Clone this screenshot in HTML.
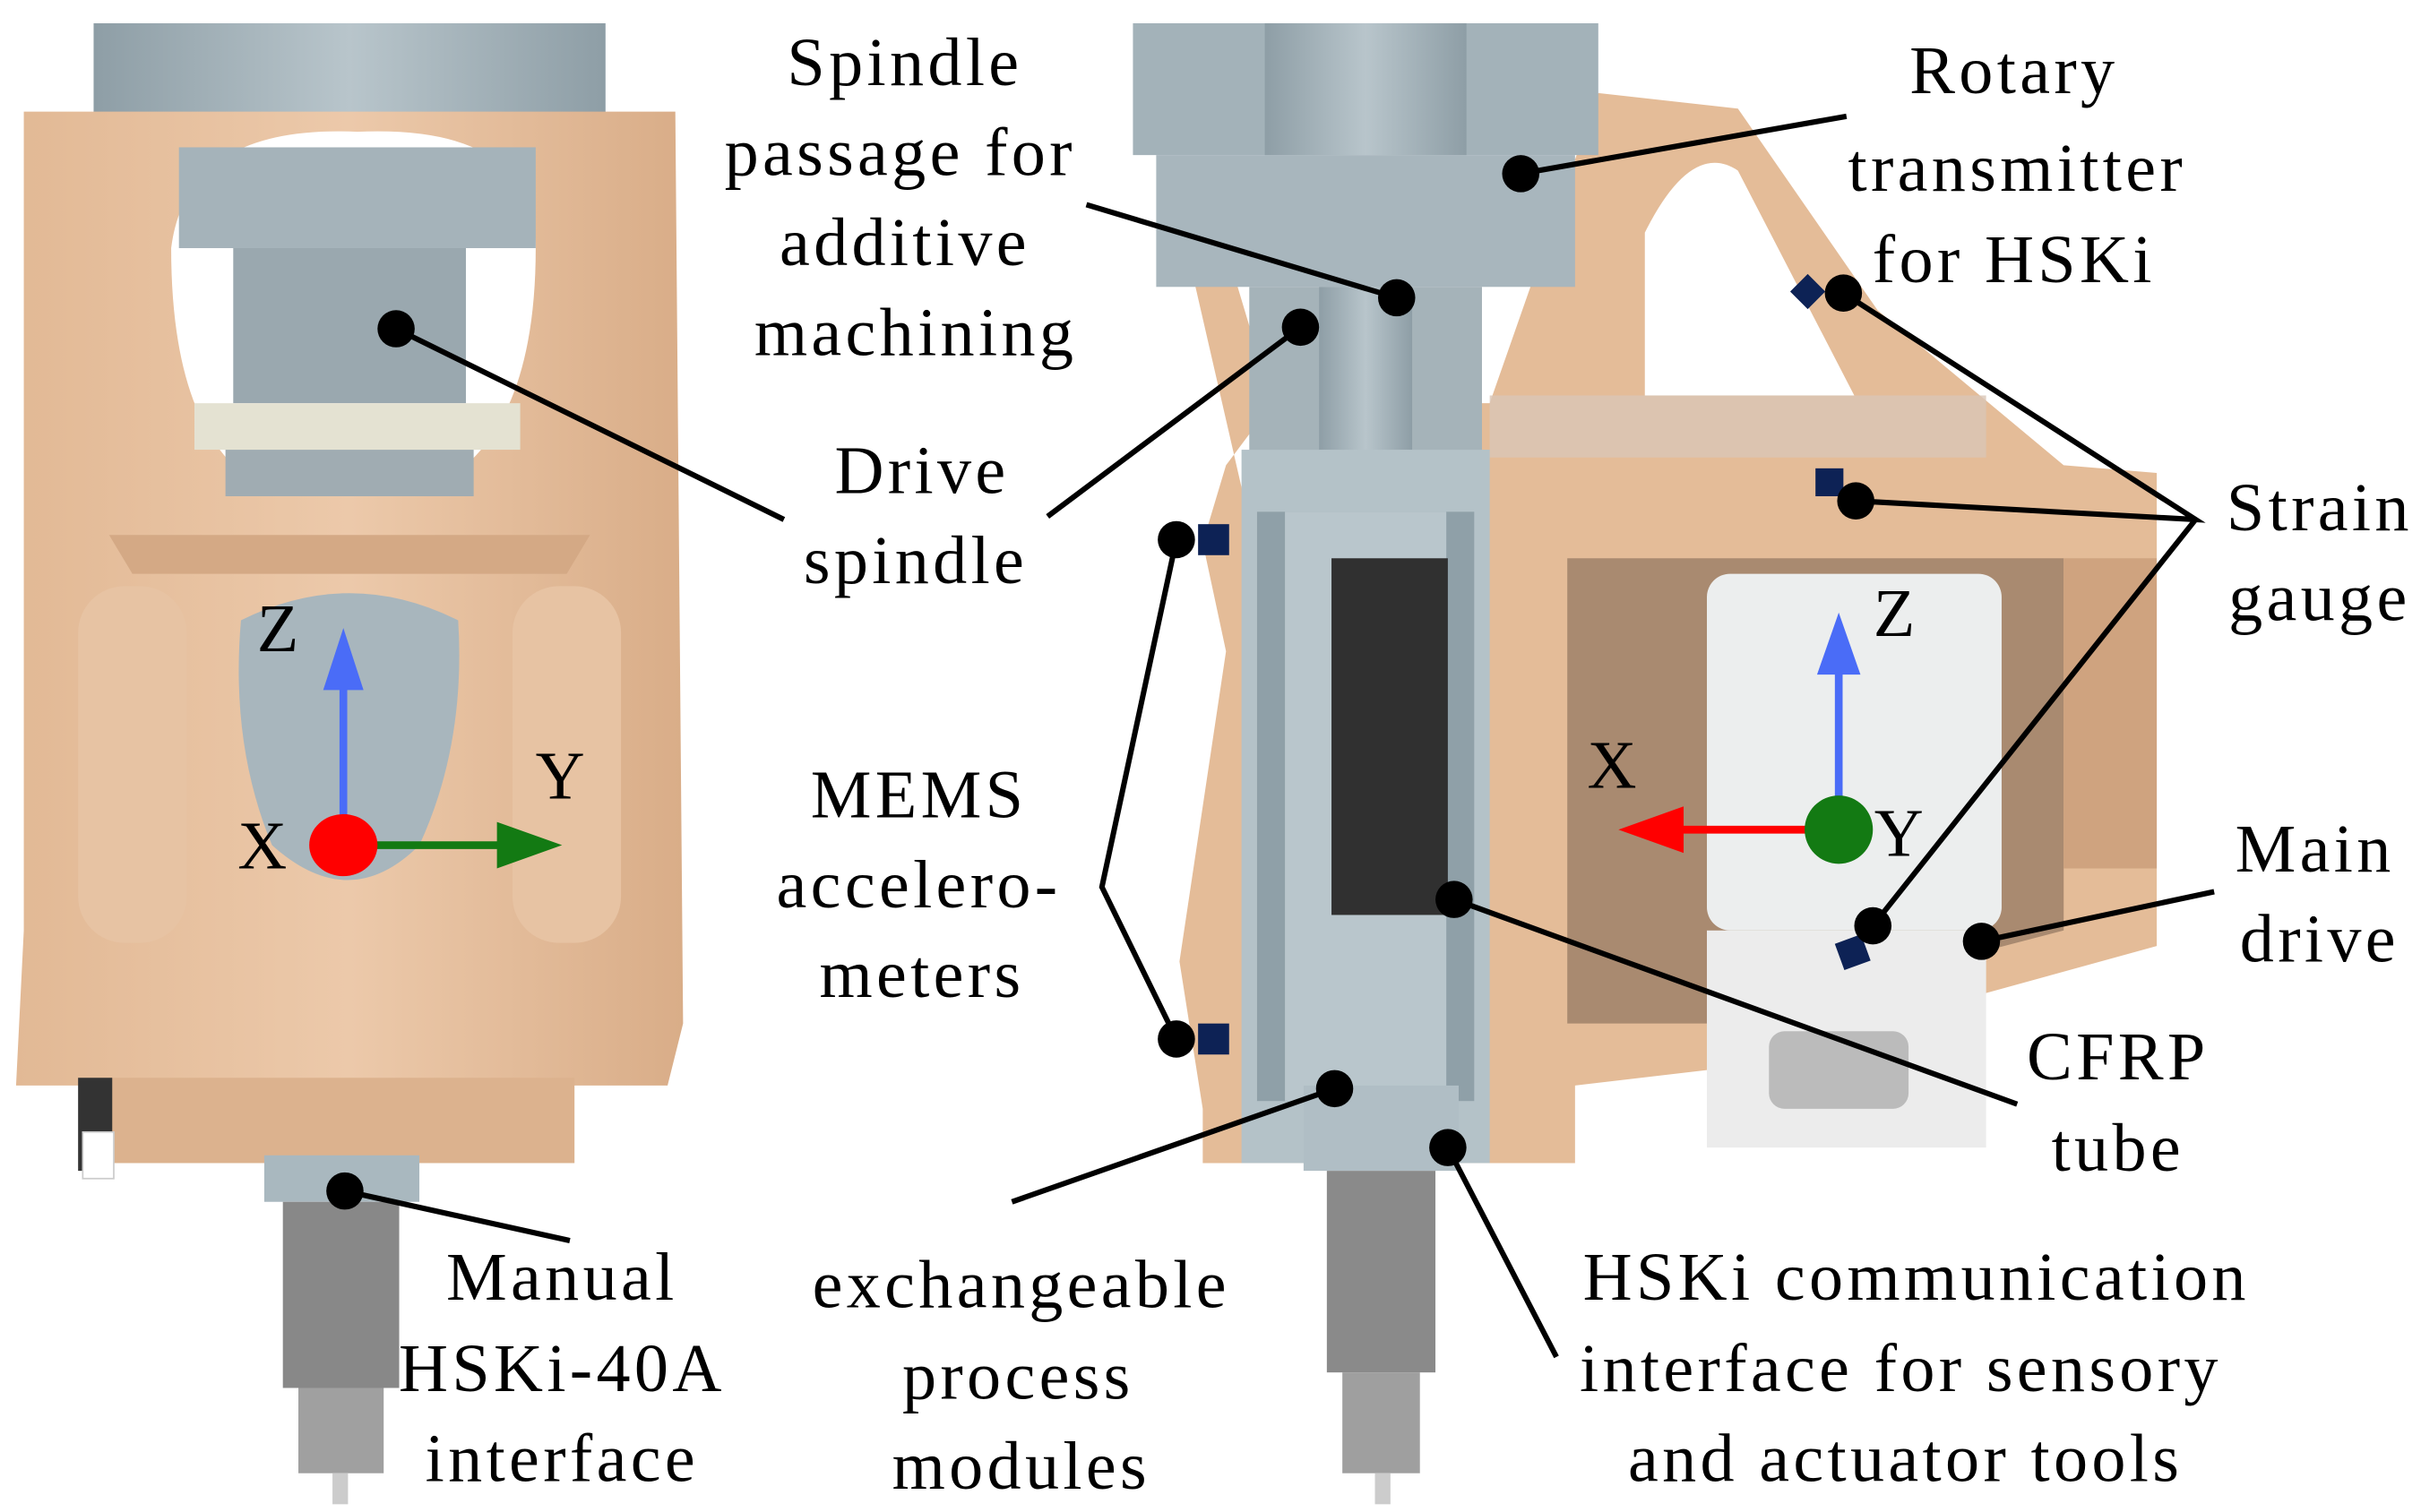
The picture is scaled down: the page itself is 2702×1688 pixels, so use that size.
<!DOCTYPE html>
<html><head><meta charset="utf-8"><style>
html,body{margin:0;padding:0;background:#fff}
svg{display:block}
text{font-family:"Liberation Serif",serif;font-size:44px;fill:#000;text-anchor:middle;letter-spacing:2.5px}
</style></head><body>
<svg width="2702" height="1688" viewBox="0 0 1560 975" xmlns="http://www.w3.org/2000/svg">
<defs>
<linearGradient id="g1" x1="0" x2="1"><stop offset="0" stop-color="#8e9ea6"/><stop offset="0.5" stop-color="#b8c5cb"/><stop offset="1" stop-color="#8e9ea6"/></linearGradient>
<linearGradient id="b1" x1="0" x2="1"><stop offset="0" stop-color="#e2b995"/><stop offset="0.5" stop-color="#ecc9aa"/><stop offset="1" stop-color="#d9ad88"/></linearGradient>
</defs>
<!-- LEFT -->
<rect x="60" y="15" width="330" height="60" fill="url(#g1)"/>
<path d="M15 72 L435 72 L440 660 L430 700 L10 700 L15 600 Z" fill="url(#b1)"/>
<rect x="70" y="695" width="300" height="55" fill="#dcb28e"/>
<rect x="50" y="378" width="70" height="230" rx="30" fill="#e7c3a3"/>
<rect x="330" y="378" width="70" height="230" rx="30" fill="#e7c3a3"/>
<path d="M110 160 Q120 80 230 85 Q345 80 345 160 Q345 260 300 300 L150 300 Q110 260 110 160Z" fill="#fff"/>
<rect x="115" y="95" width="230" height="65" fill="#a5b3ba"/>
<rect x="150" y="160" width="150" height="100" fill="#9aa8af"/>
<rect x="125" y="260" width="210" height="30" fill="#e4e2d2"/>
<rect x="145" y="290" width="160" height="30" fill="#a0acb2"/>
<path d="M70 345 L380 345 L365 370 L85 370Z" fill="#d4a985"/>
<path d="M155 400 Q225 365 295 400 Q300 480 270 545 Q225 590 175 545 Q148 480 155 400Z" fill="#a8b6bd"/>
<rect x="50" y="695" width="22" height="60" fill="#333"/>
<rect x="53" y="730" width="20" height="30" fill="#fff" stroke="#ccc"/>
<rect x="170" y="745" width="100" height="30" fill="#a9b8bf"/>
<rect x="182" y="775" width="75" height="120" fill="#888"/>
<rect x="192" y="895" width="55" height="55" fill="#a0a0a0"/>
<rect x="214" y="950" width="10" height="20" fill="#ccc"/>
<!-- axes left -->
<line x1="221" y1="545" x2="221" y2="440" stroke="#4a6cf7" stroke-width="5"/>
<polygon points="208,445 234,445 221,405" fill="#4a6cf7"/>
<line x1="221" y1="545" x2="330" y2="545" stroke="#137a13" stroke-width="5"/>
<polygon points="320,530 362,545 320,560" fill="#137a13"/>
<ellipse cx="221" cy="545" rx="22" ry="20" fill="#f00"/>
<text x="180" y="420">Z</text><text x="362" y="515">Y</text><text x="170" y="560">X</text>
<!-- RIGHT -->
<path d="M760 140 L790 160 L820 260 L790 300 L775 350 L790 420 L760 620 L775 715 L775 750 L1015 750 L1015 700 L1100 690 L1390 610 L1390 305 L1330 300 L1210 200 L1120 70 L1030 60 L960 260 L900 260 L900 750Z" fill="#e4bc98"/>
<path d="M1060 150 Q1090 90 1120 110 L1195 255 L1060 255Z" fill="#fff"/>
<path d="M1010 360 L1330 360 L1330 600 L1100 660 L1010 660Z" fill="#a98a70"/>
<rect x="1100" y="370" width="190" height="230" rx="15" fill="#eceeee"/>
<rect x="1100" y="600" width="180" height="140" fill="#ececec"/>
<rect x="1140" y="665" width="90" height="50" rx="10" fill="#bbb"/>
<rect x="960" y="255" width="320" height="40" fill="#d9c6b6" opacity="0.8"/>
<rect x="1330" y="360" width="60" height="200" fill="#cfa37f"/>
<rect x="730" y="15" width="300" height="85" fill="#a3b2b9"/>
<rect x="745" y="100" width="270" height="85" fill="#a8b6bd"/>
<rect x="815" y="15" width="130" height="85" fill="url(#g1)"/>
<rect x="805" y="185" width="150" height="110" fill="#a5b3b9"/>
<rect x="850" y="185" width="60" height="110" fill="url(#g1)"/>
<rect x="800" y="290" width="160" height="460" fill="#b4c2c8"/>
<rect x="810" y="330" width="140" height="380" fill="#8fa0a8"/>
<rect x="828" y="330" width="104" height="380" fill="#b9c6cc"/>
<rect x="858" y="360" width="75" height="230" fill="#303030"/>
<rect x="840" y="700" width="100" height="55" fill="#b0bec5"/>
<rect x="855" y="755" width="70" height="130" fill="#8a8a8a"/>
<rect x="865" y="885" width="50" height="65" fill="#9f9f9f"/>
<rect x="886" y="950" width="10" height="20" fill="#ccc"/>
<rect x="772" y="338" width="20" height="20" fill="#0d2255"/>
<rect x="772" y="660" width="20" height="20" fill="#0d2255"/>
<rect x="1170" y="302" width="18" height="18" fill="#0d2255"/>
<rect x="1157" y="180" width="16" height="16" fill="#0d2255" transform="rotate(45 1165 188)"/>
<rect x="1185" y="605" width="18" height="18" fill="#0d2255" transform="rotate(-20 1194 614)"/>
<!-- axes right -->
<line x1="1185" y1="535" x2="1185" y2="430" stroke="#4a6cf7" stroke-width="5"/>
<polygon points="1171,435 1199,435 1185,395" fill="#4a6cf7"/>
<line x1="1185" y1="535" x2="1075" y2="535" stroke="#f00" stroke-width="5"/>
<polygon points="1085,520 1043,535 1085,550" fill="#f00"/>
<circle cx="1185" cy="535" r="22" fill="#137a13"/>
<text x="1222" y="410">Z</text><text x="1225" y="552">Y</text><text x="1040" y="508">X</text>
<!-- leader lines -->
<g stroke="#000" stroke-width="3.5" fill="none">
<path d="M255 212 L505 335"/><path d="M700 132 L900 192"/><path d="M675 333 L838 211"/>
<path d="M1190 75 L980 112"/><path d="M758 348 L710 572 L758 670"/><path d="M652 775 L860 702"/>
<path d="M222 768 L367 800"/><path d="M1188 189 L1415 335 L1196 323 M1415 335 L1207 597"/>
<path d="M1427 575 L1277 607"/><path d="M937 580 L1300 712"/><path d="M933 740 L1003 875"/>
</g>
<g fill="#000">
<circle cx="255" cy="212" r="12"/><circle cx="900" cy="192" r="12"/><circle cx="838" cy="211" r="12"/>
<circle cx="980" cy="112" r="12"/><circle cx="758" cy="348" r="12"/><circle cx="758" cy="670" r="12"/>
<circle cx="860" cy="702" r="12"/><circle cx="222" cy="768" r="12"/><circle cx="1188" cy="189" r="12"/>
<circle cx="1196" cy="323" r="12"/><circle cx="1207" cy="597" r="12"/><circle cx="1277" cy="607" r="12"/>
<circle cx="937" cy="580" r="12"/><circle cx="933" cy="740" r="12"/>
</g>
<!-- labels -->
<text x="583" y="55">Spindle</text><text x="580" y="113">passage for</text><text x="583" y="171">additive</text><text x="590" y="229">machining</text>
<text x="594" y="318">Drive</text><text x="590" y="376">spindle</text>
<text x="592" y="527">MEMS</text><text x="592" y="585">accelero-</text><text x="594" y="643">meters</text>
<text x="658" y="843">exchangeable</text><text x="656" y="902">process</text><text x="658" y="960">modules</text>
<text x="362" y="838">Manual</text><text x="362" y="897">HSKi-40A</text><text x="362" y="955">interface</text>
<text x="1298" y="60">Rotary</text><text x="1300" y="123">transmitter</text><text x="1298" y="182">for HSKi</text>
<text x="1495" y="342">Strain</text><text x="1495" y="400">gauge</text>
<text x="1492" y="562">Main</text><text x="1495" y="620">drive</text>
<text x="1365" y="696">CFRP</text><text x="1365" y="755">tube</text>
<text x="1235" y="838">HSKi communication</text><text x="1225" y="897">interface for sensory</text><text x="1228" y="955">and actuator tools</text>
</svg>
</body></html>
